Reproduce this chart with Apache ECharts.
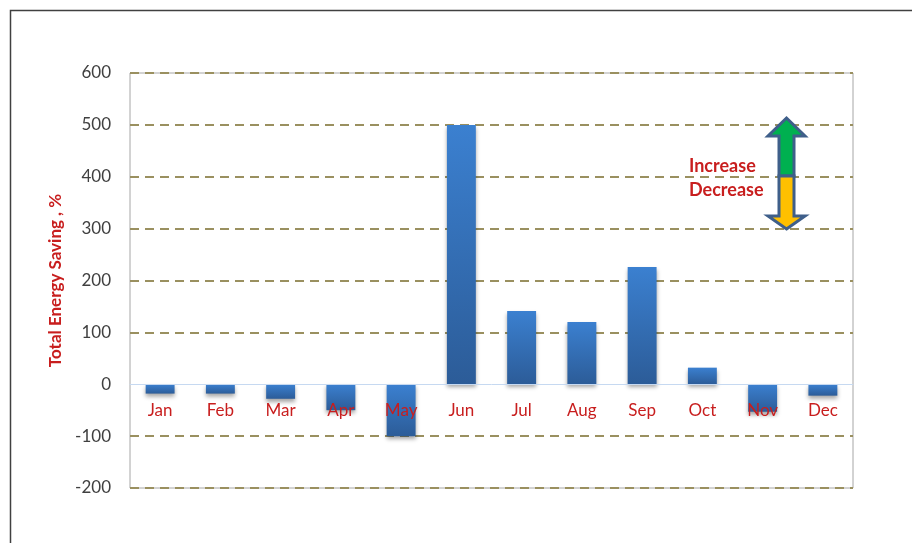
<!DOCTYPE html>
<html>
<head>
<meta charset="utf-8">
<script src="https://cdn.jsdelivr.net/npm/echarts@6/dist/echarts.min.js"></script>
<style>
html,body{margin:0;padding:0;background:#fff;}
#chart{width:912px;height:543px;}
</style>
</head>
<body>
<div id="chart"></div>
<script>
const months = ['Jan','Feb','Mar','Apr','May','Jun','Jul','Aug','Sep','Oct','Nov','Dec'];
const savings = [-18, -18, -28, -50, -100, 500, 141, 120, 226, 32, -53, -22];
const yTicks = { min: -200, max: 600, interval: 100 };
const axisTitle = 'Total Energy Saving , %';
const legendTexts = ['Increase', 'Decrease'];

const chart = echarts.init(document.getElementById('chart'));
const FONT = 'Lato, "Open Sans", sans-serif';
const RED = '#c81e1e';
const outline = '#3f5f8a';
const GRID = '#9a9060';

// split line colours: hide the one at zero (drawn as the light-blue axis line instead)
const splitColors = [];
for (let v = yTicks.min; v <= yTicks.max; v += yTicks.interval) {
  splitColors.push(v === 0 ? 'rgba(0,0,0,0)' : GRID);
}

const gridTop = 73, gridBottom = 55, chartH = 543;
const plotH = chartH - gridTop - gridBottom;
const zeroOffset = -plotH * (0 - yTicks.min) / (yTicks.max - yTicks.min);

chart.setOption({
  animation: false,
  grid: {
    left: 130, right: 59, top: gridTop, bottom: gridBottom,
    show: true, borderColor: '#a6a6a6', borderWidth: 1, backgroundColor: 'transparent'
  },
  xAxis: {
    type: 'category',
    data: months,
    offset: zeroOffset,
    z: 10,
    axisLine: { onZero: false, lineStyle: { color: '#c6d9f1', width: 1 } },
    axisTick: { show: false },
    axisLabel: { color: RED, fontFamily: FONT, fontSize: 17, margin: 18 },
    splitLine: { show: false }
  },
  yAxis: {
    type: 'value',
    min: yTicks.min, max: yTicks.max, interval: yTicks.interval,
    name: axisTitle,
    nameLocation: 'middle',
    nameGap: 62,
    nameRotate: 90,
    nameTextStyle: { color: RED, fontFamily: FONT, fontSize: 17, fontWeight: 'bold' },
    axisLine: { show: false },
    axisTick: { show: false },
    axisLabel: { color: '#404040', fontFamily: FONT, fontSize: 17, margin: 19 },
    splitLine: {
      show: true,
      lineStyle: { color: splitColors, width: 2, type: [9, 6] },
      showMinLine: true, showMaxLine: true
    }
  },
  series: [{
    type: 'bar',
    data: savings,
    barWidth: '48%',
    itemStyle: {
      color: new echarts.graphic.LinearGradient(0, 0, 0, 1, [
        { offset: 0, color: '#3b80d0' },
        { offset: 1, color: '#2c5c98' }
      ]),
      shadowBlur: 4,
      shadowOffsetY: 3,
      shadowColor: 'rgba(0,0,0,0.35)'
    },
    z: 3
  }],
  graphic: [
    {
      type: 'rect', silent: true, z: 0,
      shape: { x: 10.5, y: 10.5, width: 1000, height: 1000 },
      style: { fill: 'none', stroke: '#404040', lineWidth: 1.5 }
    },
    {
      type: 'polygon', z: 20,
      shape: { points: [[786.5, 118], [805, 136], [794, 136], [794, 176], [779, 176], [779, 136], [768, 136]] },
      style: { fill: '#00b050', stroke: outline, lineWidth: 3, lineJoin: 'miter' }
    },
    {
      type: 'polygon', z: 20,
      shape: { points: [[786.5, 229], [805, 216], [794, 216], [794, 176], [779, 176], [779, 216], [768, 216]] },
      style: { fill: '#ffc000', stroke: outline, lineWidth: 3, lineJoin: 'miter' }
    },
    {
      type: 'text', z: 21,
      x: 689, y: 166,
      style: { text: legendTexts[0], fill: RED, font: 'bold 18px ' + FONT, textVerticalAlign: 'middle', textAlign: 'left' }
    },
    {
      type: 'text', z: 21,
      x: 689, y: 190,
      style: { text: legendTexts[1], fill: RED, font: 'bold 18px ' + FONT, textVerticalAlign: 'middle', textAlign: 'left' }
    }
  ]
});
</script>
</body>
</html>
